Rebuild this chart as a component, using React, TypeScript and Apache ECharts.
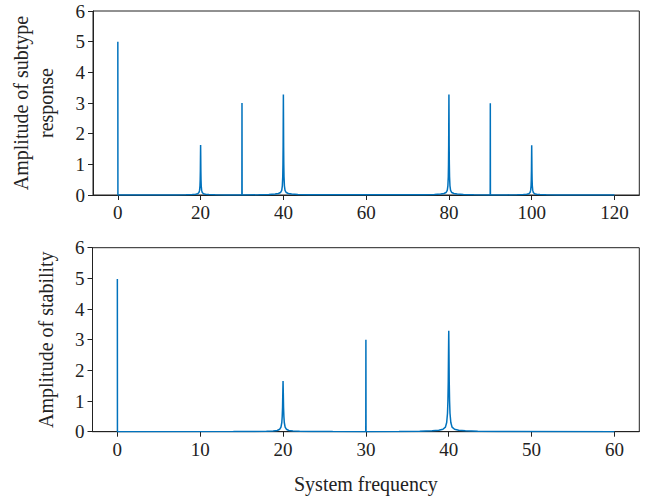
import React, { useEffect, useRef } from "react";
import * as echarts from "echarts";

// Top panel: subtype response (x, y pairs)
const topSpike0 = [[0, 5.0], [0.02, 0]];
const topPeak20 = [
  [14, 0.003], [16.5, 0.008], [18, 0.015], [18.8, 0.025], [19.3, 0.04], [19.6, 0.08], [19.75, 0.15], [19.85, 0.3],
  [19.9, 0.5], [19.94, 0.8], [19.97, 1.25], [20, 1.63], [20.03, 1.25], [20.06, 0.8], [20.1, 0.5], [20.15, 0.3],
  [20.25, 0.15], [20.4, 0.08], [20.7, 0.04], [21.2, 0.025], [22, 0.015], [23.5, 0.008], [26, 0.003],
];
const topSpike30 = [[29.97, 0], [30, 3.0], [30.03, 0]];
const topPeak40 = [
  [34, 0.005], [36.5, 0.015], [38, 0.03], [38.8, 0.05], [39.3, 0.08], [39.6, 0.15], [39.75, 0.3], [39.85, 0.6],
  [39.9, 1.0], [39.94, 1.6], [39.97, 2.5], [40, 3.28], [40.03, 2.5], [40.06, 1.6], [40.1, 1.0], [40.15, 0.6],
  [40.25, 0.3], [40.4, 0.15], [40.7, 0.08], [41.2, 0.05], [42, 0.03], [43.5, 0.015], [46, 0.005],
];
const topPeak80 = [
  [74, 0.005], [76.5, 0.015], [78, 0.03], [78.8, 0.05], [79.3, 0.08], [79.6, 0.15], [79.75, 0.3], [79.85, 0.6],
  [79.9, 1.0], [79.94, 1.6], [79.97, 2.5], [80, 3.28], [80.03, 2.5], [80.06, 1.6], [80.1, 1.0], [80.15, 0.6],
  [80.25, 0.3], [80.4, 0.15], [80.7, 0.08], [81.2, 0.05], [82, 0.03], [83.5, 0.015], [86, 0.005],
];
const topSpike90 = [[89.97, 0], [90, 2.99], [90.03, 0]];
const topPeak100 = [
  [94, 0.003], [96.5, 0.008], [98, 0.015], [98.8, 0.025], [99.3, 0.04], [99.6, 0.08], [99.75, 0.15], [99.85, 0.3],
  [99.9, 0.5], [99.94, 0.8], [99.97, 1.25], [100, 1.62], [100.03, 1.25], [100.06, 0.8], [100.1, 0.5], [100.15, 0.3],
  [100.25, 0.15], [100.4, 0.08], [100.7, 0.04], [101.2, 0.025], [102, 0.015], [103.5, 0.008], [106, 0.003],
];
const topEnd = [[120, 0]];

// Bottom panel: stability
const botSpike0 = [[0, 4.98], [0.01, 0]];
const botPeak20 = [
  [14, 0.003], [16.5, 0.008], [18, 0.015], [18.8, 0.025], [19.3, 0.04], [19.6, 0.08], [19.75, 0.15], [19.85, 0.3],
  [19.9, 0.5], [19.94, 0.8], [19.97, 1.25], [20, 1.65], [20.03, 1.25], [20.06, 0.8], [20.1, 0.5], [20.15, 0.3],
  [20.25, 0.15], [20.4, 0.08], [20.7, 0.04], [21.2, 0.025], [22, 0.015], [23.5, 0.008], [26, 0.003],
];
const botSpike30 = [[29.985, 0], [30, 3.0], [30.015, 0]];
const botPeak40 = [
  [34, 0.005], [36.5, 0.015], [38, 0.03], [38.8, 0.05], [39.3, 0.08], [39.6, 0.15], [39.75, 0.3], [39.85, 0.6],
  [39.9, 1.0], [39.94, 1.6], [39.97, 2.5], [40, 3.29], [40.03, 2.5], [40.06, 1.6], [40.1, 1.0], [40.15, 0.6],
  [40.25, 0.3], [40.4, 0.15], [40.7, 0.08], [41.2, 0.05], [42, 0.03], [43.5, 0.015], [46, 0.005],
];
const botEnd = [[60, 0]];

const topTicks = [0, 20, 40, 60, 80, 100, 120];
const botTicks = [0, 10, 20, 30, 40, 50, 60];

const FONT = "Liberation Serif";
const LINE = "#0072bd";
const AX = "#222";

export default function App() {
  const ref = useRef<HTMLDivElement>(null);
  useEffect(() => {
    if (!ref.current) return;
    const chart = echarts.init(ref.current, undefined, { renderer: "svg" });
    const topData = [
      ...topSpike0, ...topPeak20, ...topSpike30, ...topPeak40, ...topPeak80, ...topSpike90, ...topPeak100, ...topEnd,
    ];
    const botData = [...botSpike0, ...botPeak20, ...botSpike30, ...botPeak40, ...botEnd];
    const xCommon = (min: number, max: number, ticks: number[], gi: number, name: string) => ({
      type: "value",
      gridIndex: gi,
      min,
      max,
      name,
      nameLocation: "middle",
      nameGap: 42,
      nameTextStyle: { fontFamily: FONT, fontSize: 20, color: AX },
      splitLine: { show: false },
      axisLine: { show: true, onZero: false, lineStyle: { color: AX, width: 1 } },
      axisTick: { show: true, length: 5, lineStyle: { color: AX }, customValues: ticks },
      axisLabel: { fontFamily: FONT, fontSize: 19, color: AX, margin: 8, customValues: ticks },
    });
    const yCommon = (gi: number, name: string, gap: number) => ({
      type: "value",
      gridIndex: gi,
      min: 0,
      max: 6,
      interval: 1,
      name,
      nameLocation: "middle",
      nameRotate: 90,
      nameGap: gap,
      nameTextStyle: { fontFamily: FONT, fontSize: 20, color: AX, lineHeight: 25 },
      splitLine: { show: false },
      axisLine: { show: true, onZero: false, lineStyle: { color: AX, width: 1 } },
      axisTick: { show: true, length: 5, lineStyle: { color: AX } },
      axisLabel: { fontFamily: FONT, fontSize: 19, color: AX, margin: 8 },
    });
    chart.setOption({
      animation: false,
      backgroundColor: "#fff",
      grid: [
        { left: 92.5, top: 11, width: 546.8, height: 184, show: true, borderColor: AX, borderWidth: 1 },
        { left: 92.5, top: 247.7, width: 546.8, height: 184, show: true, borderColor: AX, borderWidth: 1 },
      ],
      xAxis: [xCommon(-6, 126, topTicks, 0, ""), xCommon(-3, 63, botTicks, 1, "System frequency")],
      yAxis: [yCommon(0, "Amplitude of subtype\nresponse", 35), yCommon(1, "Amplitude of stability", 34)],
      series: [
        {
          type: "line",
          xAxisIndex: 0,
          yAxisIndex: 0,
          data: topData,
          showSymbol: false,
          lineStyle: { color: LINE, width: 1.5 },
          itemStyle: { color: LINE },
        },
        {
          type: "line",
          xAxisIndex: 1,
          yAxisIndex: 1,
          data: botData,
          showSymbol: false,
          lineStyle: { color: LINE, width: 1.5 },
          itemStyle: { color: LINE },
        },
      ],
    });
    return () => chart.dispose();
  }, []);
  return (
    <div
      ref={ref}
      style={{ position: "fixed", left: 0, top: 0, width: 657, height: 498, background: "#fff" }}
    />
  );
}
